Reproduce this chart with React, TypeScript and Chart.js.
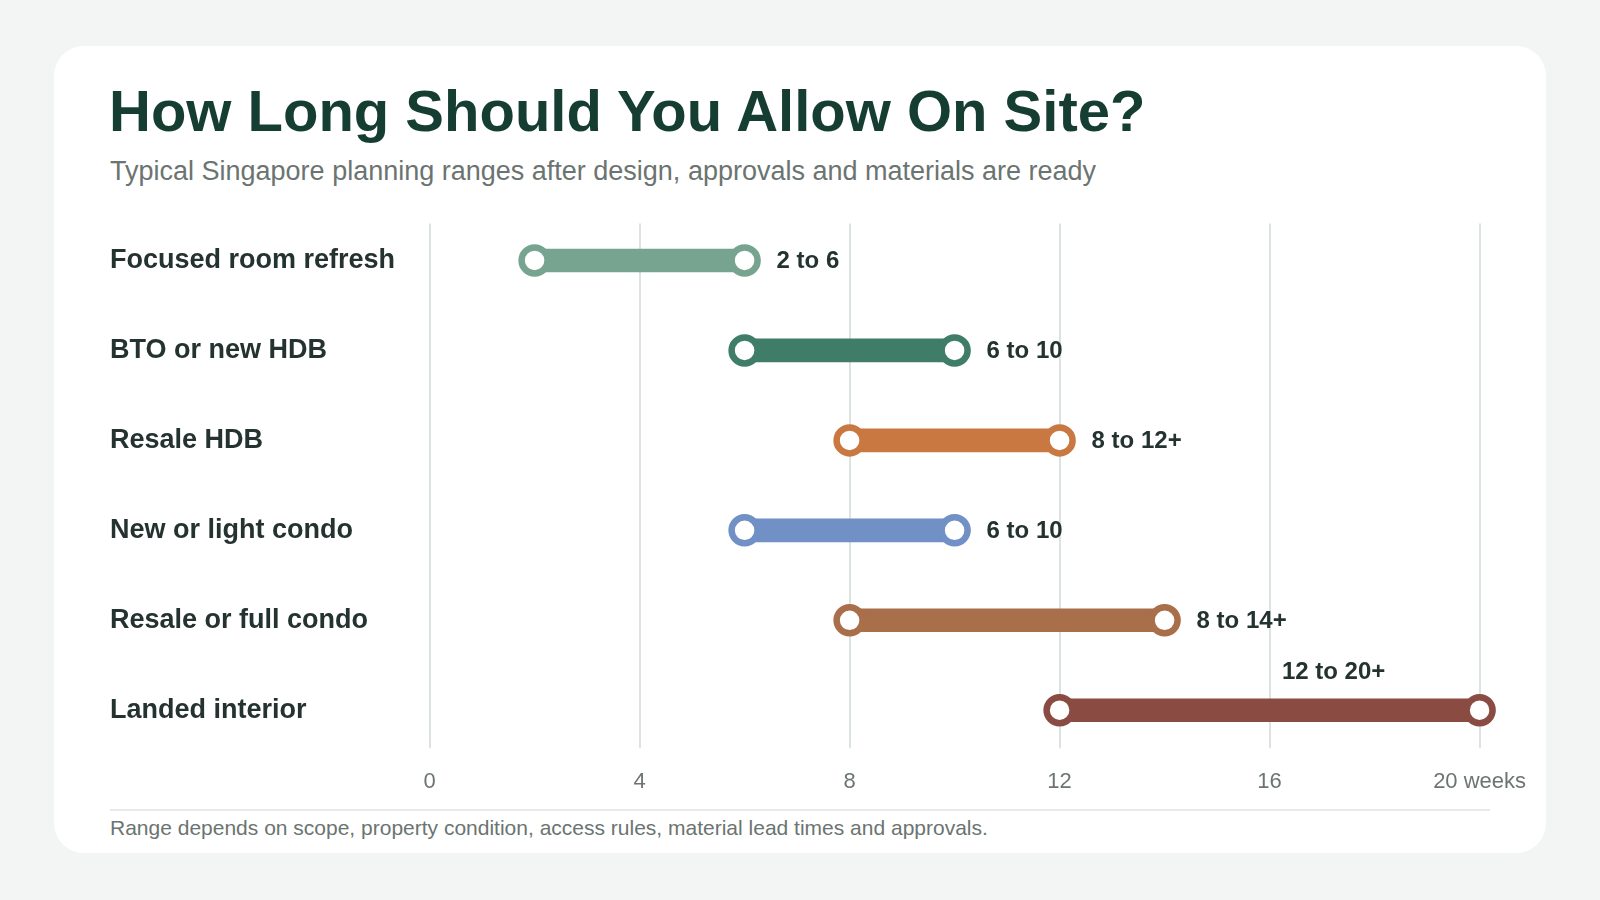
import React, { useEffect, useRef } from "react";
import { Chart, registerables } from "chart.js";

Chart.register(...registerables);

const categories = [
  "Focused room refresh",
  "BTO or new HDB",
  "Resale HDB",
  "New or light condo",
  "Resale or full condo",
  "Landed interior",
];
const startWeeks = [2, 6, 8, 6, 8, 12];
const endWeeks = [6, 10, 12, 10, 14, 20];
const rangeLabels = ["2 to 6", "6 to 10", "8 to 12+", "6 to 10", "8 to 14+", "12 to 20+"];
const rowColors = ["#77a490", "#3f7d68", "#c97842", "#7090c6", "#a96f4b", "#8a4b43"];
const xTicks = [0, 4, 8, 12, 16, 20];
const xUnit = "weeks";

const FONT = "'Liberation Sans', Arial, Helvetica, sans-serif";

const gridPlugin = {
  id: "customGrid",
  beforeDatasetsDraw(chart: any) {
    const { ctx, chartArea, scales } = chart;
    ctx.save();
    ctx.strokeStyle = "#dde3e1";
    ctx.lineWidth = 2;
    xTicks.forEach((v) => {
      const x = Math.round(scales.x.getPixelForValue(v));
      ctx.beginPath();
      ctx.moveTo(x, chartArea.top + 8);
      ctx.lineTo(x, chartArea.bottom - 7);
      ctx.stroke();
    });
    ctx.restore();
  },
};

const labelPlugin = {
  id: "rangeLabels",
  afterDatasetsDraw(chart: any) {
    const { ctx, scales } = chart;
    ctx.save();
    ctx.fillStyle = "#243230";
    ctx.font = `bold 24px ${FONT}`;
    ctx.textBaseline = "middle";
    categories.forEach((c, i) => {
      const y = scales.y.getPixelForValue(i);
      const xEnd = scales.x.getPixelForValue(endWeeks[i]);
      if (endWeeks[i] >= scales.x.max) {
        ctx.textAlign = "center";
        ctx.fillText(rangeLabels[i], xEnd - 146, y - 38);
      } else {
        ctx.textAlign = "left";
        ctx.fillText(rangeLabels[i], xEnd + 32, y + 1);
      }
    });
    ctx.restore();
  },
};

function DumbbellChart() {
  const ref = useRef<HTMLCanvasElement | null>(null);
  useEffect(() => {
    if (!ref.current) return;
    const pointStyle = {
      type: "line" as const,
      showLine: false,
      pointRadius: 13,
      pointHoverRadius: 13,
      pointBorderWidth: 6.5,
      pointBackgroundColor: "#ffffff",
      pointBorderColor: rowColors,
      clip: false as any,
    };
    const chart = new Chart(ref.current, {
      type: "bar",
      data: {
        labels: categories,
        datasets: [
          {
            type: "line",
            ...pointStyle,
            data: categories.map((c, i) => ({ x: startWeeks[i], y: c })) as any,
            order: 0,
          } as any,
          {
            type: "line",
            ...pointStyle,
            data: categories.map((c, i) => ({ x: endWeeks[i], y: c })) as any,
            order: 0,
          } as any,
          {
            type: "bar",
            data: categories.map((c, i) => [startWeeks[i], endWeeks[i]]) as any,
            backgroundColor: rowColors,
            borderSkipped: false,
            barThickness: 23,
            borderWidth: 0,
            order: 1,
          } as any,
        ],
      },
      options: {
        indexAxis: "y",
        animation: false,
        responsive: false,
        maintainAspectRatio: false,
        layout: { padding: { top: 11.5, right: 66.4, bottom: 0, left: 0 } },
        plugins: {
          legend: { display: false },
          tooltip: { enabled: false },
          title: { display: false },
        },
        scales: {
          x: {
            type: "linear",
            min: 0,
            max: 20,
            grid: { display: false, drawTicks: false },
            border: { display: false },
            afterBuildTicks: (scale: any) => {
              scale.ticks = xTicks.map((v) => ({ value: v }));
            },
            afterFit: (scale: any) => {
              scale.height = 40.8;
            },
            ticks: {
              padding: 13.5,
              color: "#6c7572",
              font: { family: FONT, size: 22 },
              maxRotation: 0,
              callback: (v: any) => (Number(v) === 20 ? `${v} ${xUnit}` : `${v}`),
            },
          },
          y: {
            type: "category",
            grid: { display: false, drawTicks: false },
            border: { display: false },
            afterFit: (scale: any) => {
              scale.width = 319.6;
            },
            ticks: {
              crossAlign: "far",
              color: "#243230",
              font: { family: FONT, size: 27, weight: "bold" },
            },
          },
        },
      } as any,
      plugins: [gridPlugin, labelPlugin],
    });
    return () => chart.destroy();
  }, []);
  return (
    <canvas
      ref={ref}
      width={1436}
      height={600}
      style={{ position: "absolute", left: 110, top: 196, width: 1436, height: 600 }}
    />
  );
}

export default function App() {
  return (
    <div
      style={{
        position: "fixed",
        inset: 0,
        background: "#f2f5f4",
        fontFamily: FONT,
        overflow: "hidden",
      }}
    >
      <div
        style={{
          position: "absolute",
          left: 54,
          top: 46,
          width: 1492,
          height: 807,
          background: "#ffffff",
          borderRadius: 30,
        }}
      />
      <div
        style={{
          position: "absolute",
          left: 109,
          top: 78,
          fontSize: 58,
          fontWeight: "bold",
          color: "#163d31",
          lineHeight: "66px",
          whiteSpace: "nowrap",
        }}
      >
        How Long Should You Allow On Site?
      </div>
      <div
        style={{
          position: "absolute",
          left: 110,
          top: 156,
          fontSize: 27,
          color: "#6b7470",
          lineHeight: "30px",
          whiteSpace: "nowrap",
        }}
      >
        Typical Singapore planning ranges after design, approvals and materials are ready
      </div>
      <DumbbellChart />
      <div
        style={{
          position: "absolute",
          left: 110,
          top: 809,
          width: 1380,
          height: 2,
          background: "#e6eae8",
        }}
      />
      <div
        style={{
          position: "absolute",
          left: 110,
          top: 815.6,
          fontSize: 21,
          color: "#6b7470",
          lineHeight: "24px",
          whiteSpace: "nowrap",
        }}
      >
        Range depends on scope, property condition, access rules, material lead times and approvals.
      </div>
    </div>
  );
}
